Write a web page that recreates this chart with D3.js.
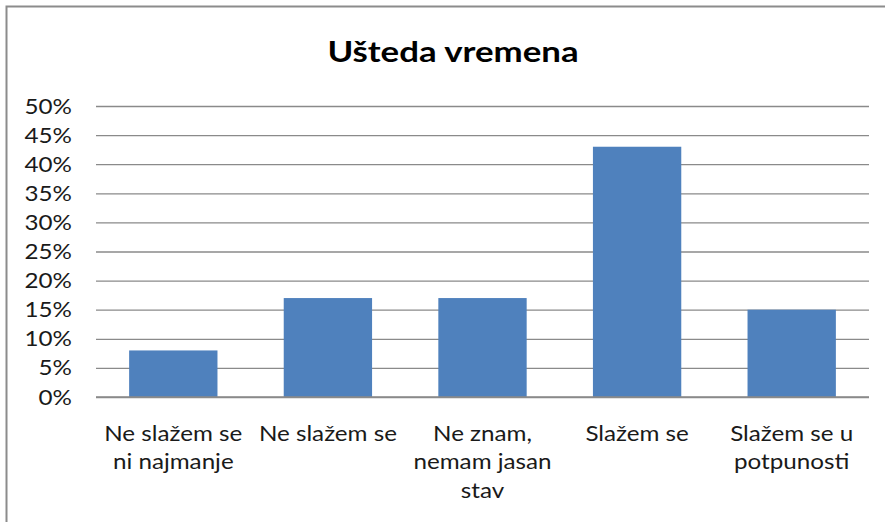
<!DOCTYPE html>
<html>
<head>
<meta charset="utf-8">
<script src="https://cdn.jsdelivr.net/npm/d3@7"></script>
<style>
  html, body { margin: 0; padding: 0; background: #fff; }
  svg { display: block; font-family: Lato, "Open Sans", sans-serif; }
</style>
</head>
<body>
<svg id="chart" width="885" height="522"></svg>
<script>
// Survey answers (label lines split with \n) and share of respondents
const categories = [
  "Ne slažem se\nni najmanje",
  "Ne slažem se",
  "Ne znam,\nnemam jasan\nstav",
  "Slažem se",
  "Slažem se u\npotpunosti"
];
const shares = [0.08, 0.17, 0.17, 0.43, 0.15];
const yTicks = [0, 0.05, 0.10, 0.15, 0.20, 0.25, 0.30, 0.35, 0.40, 0.45, 0.50];
const title = "Ušteda vremena";

const svg = d3.select("#chart");
const W = 885, H = 522;
const plot = { left: 96, right: 869, top: 106, bottom: 397 };
const textColor = "#1a1a1a";
const labelSize = 22;
const stretch = 1.1;   // slightly wide lettering for all labels

// Chart area frame (top and left edges in view)
svg.append("path")
  .attr("d", `M6.5,${H} L6.5,6.5 L${W},6.5`)
  .attr("fill", "none")
  .attr("stroke", "#8c8c8c")
  .attr("stroke-width", 2);

svg.append("text")
  .attr("transform", "translate(453,62) scale(1.2,1)")
  .attr("text-anchor", "middle")
  .attr("font-size", 29)
  .attr("font-weight", "bold")
  .attr("fill", "#000")
  .text(title);

const x = d3.scaleBand()
  .domain(categories)
  .range([plot.left, plot.right])
  .paddingInner(0.75 / 1.75)
  .paddingOuter(0.75 / 1.75 / 2);

const y = d3.scaleLinear()
  .domain([0, 0.5])
  .range([plot.bottom, plot.top]);

// Value axis with full-width gridlines
const tickPad = 24;
const yAxis = svg.append("g")
  .attr("transform", `translate(${plot.left},0)`)
  .call(d3.axisLeft(y)
    .tickValues(yTicks)
    .tickSize(-(plot.right - plot.left))
    .tickPadding(tickPad)
    .tickFormat(d3.format(".0%")));
yAxis.select(".domain").remove();
yAxis.selectAll(".tick line")
  .attr("stroke", "#8a8a8a")
  .attr("stroke-width", 1.3);
yAxis.selectAll(".tick text")
  .attr("font-size", labelSize)
  .attr("fill", textColor)
  .attr("font-family", "Lato, sans-serif")
  .attr("x", -tickPad / stretch)
  .attr("transform", `scale(${stretch},1)`);

// Bars
svg.append("g")
  .selectAll("rect")
  .data(shares)
  .join("rect")
  .attr("x", (d, i) => x(categories[i]))
  .attr("y", d => y(d))
  .attr("width", x.bandwidth())
  .attr("height", d => y(0) - y(d))
  .attr("fill", "#4f81bd");

// Category axis line and wrapped labels
svg.append("line")
  .attr("x1", plot.left).attr("x2", plot.right)
  .attr("y1", y(0)).attr("y2", y(0))
  .attr("stroke", "#8a8a8a")
  .attr("stroke-width", 1.3);

svg.append("g")
  .selectAll("text")
  .data(categories)
  .join("text")
  .attr("transform", d => `translate(${x(d) + x.bandwidth() / 2},0) scale(${stretch},1)`)
  .attr("text-anchor", "middle")
  .attr("font-size", labelSize)
  .attr("fill", textColor)
  .each(function(d) {
    d3.select(this).selectAll("tspan")
      .data(d.split("\n"))
      .join("tspan")
      .attr("x", 0)
      .attr("y", (line, i) => 441 + i * 28.5)
      .text(line => line);
  });
</script>
</body>
</html>
